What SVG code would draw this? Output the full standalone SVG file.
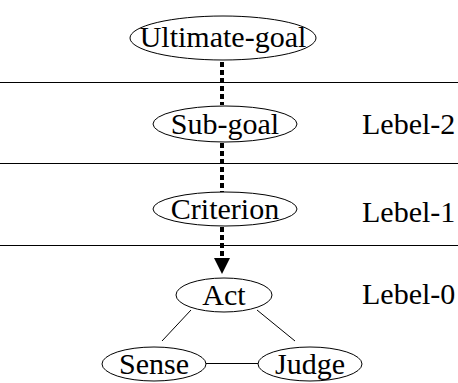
<svg xmlns="http://www.w3.org/2000/svg" width="458" height="383" viewBox="0 0 458 383">
<style>
.n{fill:#fff;stroke:#000;stroke-width:1}
.h{stroke:#000;stroke-width:1}
.d{stroke:#000;stroke-width:4;stroke-dasharray:5 3}
</style>
<rect width="458" height="383" fill="#fff"/>
<g id="levels">
<line class="h" x1="0" y1="82.5" x2="458" y2="82.5"/>
<line class="h" x1="0" y1="163.5" x2="458" y2="163.5"/>
<line class="h" x1="0" y1="245.5" x2="458" y2="245.5"/>
</g>
<g id="level-2" font-family="Liberation Serif, serif" font-size="30">
<text x="362" y="134">Lebel-2</text>
</g>
<g id="level-1" font-family="Liberation Serif, serif" font-size="30">
<text x="362" y="222">Lebel-1</text>
</g>
<g id="level-0" font-family="Liberation Serif, serif" font-size="30">
<text x="362" y="304">Lebel-0</text>
</g>
<g id="connectors">
<line class="d" x1="222" y1="62" x2="222" y2="105"/>
<line class="d" x1="222" y1="143" x2="222" y2="192"/>
<line class="d" x1="222" y1="227" x2="222" y2="258"/>
<polygon points="214,258 230,258 222,274" fill="#000"/>
<line class="h" x1="191" y1="310" x2="162" y2="341"/>
<line class="h" x1="257" y1="310" x2="295" y2="341"/>
<line class="h" x1="206" y1="363.5" x2="258" y2="363.5"/>
</g>
<g id="ultimate-goal" font-family="Liberation Serif, serif" font-size="30" text-anchor="middle">
<ellipse class="n" cx="223" cy="38" rx="93" ry="22"/>
<text x="223" y="47">Ultimate-goal</text>
</g>
<g id="sub-goal" font-family="Liberation Serif, serif" font-size="30" text-anchor="middle">
<ellipse class="n" cx="225" cy="124" rx="72" ry="18"/>
<text x="225" y="134">Sub-goal</text>
</g>
<g id="criterion" font-family="Liberation Serif, serif" font-size="30" text-anchor="middle">
<ellipse class="n" cx="225" cy="209" rx="72" ry="17"/>
<text x="225" y="219">Criterion</text>
</g>
<g id="act" font-family="Liberation Serif, serif" font-size="30" text-anchor="middle">
<ellipse class="n" cx="224" cy="295" rx="48" ry="17"/>
<text x="224" y="305">Act</text>
</g>
<g id="sense" font-family="Liberation Serif, serif" font-size="30" text-anchor="middle">
<ellipse class="n" cx="154" cy="364" rx="52" ry="17"/>
<text x="154" y="374">Sense</text>
</g>
<g id="judge" font-family="Liberation Serif, serif" font-size="30" text-anchor="middle">
<ellipse class="n" cx="310" cy="364" rx="52" ry="17"/>
<text x="310" y="374">Judge</text>
</g>
</svg>
